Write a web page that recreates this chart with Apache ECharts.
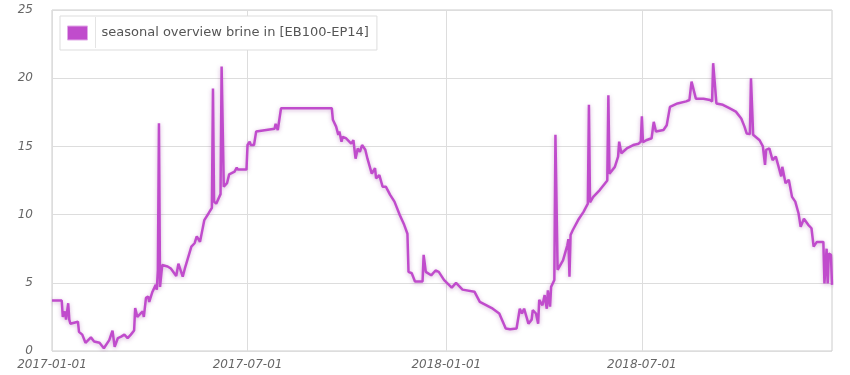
<!DOCTYPE html>
<html>
<head>
<meta charset="utf-8">
<script src="https://cdn.jsdelivr.net/npm/echarts@6/dist/echarts.min.js"></script>
<style>
html,body{margin:0;padding:0;background:#fff;}
#chart{width:850px;height:375px;}
</style>
</head>
<body>
<div id="chart"></div>
<script>
const seriesName = 'seasonal overview brine in [EB100-EP14]';
const xTickLabels = ['2017-01-01', '2017-07-01', '2018-01-01', '2018-07-01'];
const yTicks = [0, 5, 10, 15, 20, 25];
const xMin = '2017-01-01';
const xMax = '2018-12-24';

const dates = [
 '2017-01-01','2017-01-10','2017-01-11','2017-01-13','2017-01-14','2017-01-16','2017-01-17','2017-01-18',
 '2017-01-25','2017-01-26','2017-01-29','2017-02-01','2017-02-06','2017-02-09','2017-02-14','2017-02-18',
 '2017-02-23','2017-02-26','2017-02-28','2017-03-03','2017-03-06','2017-03-09','2017-03-12','2017-03-15',
 '2017-03-18','2017-03-19','2017-03-21','2017-03-24','2017-03-26','2017-03-27','2017-03-29','2017-03-31',
 '2017-04-01','2017-04-04','2017-04-07','2017-04-08','2017-04-09','2017-04-10','2017-04-11','2017-04-13',
 '2017-04-18','2017-04-21','2017-04-26','2017-04-28','2017-05-02','2017-05-04','2017-05-10','2017-05-13',
 '2017-05-15','2017-05-18','2017-05-22','2017-05-26','2017-05-29','2017-05-30','2017-05-31','2017-06-02',
 '2017-06-06','2017-06-07','2017-06-09','2017-06-12','2017-06-14','2017-06-19','2017-06-21','2017-06-22',
 '2017-06-30','2017-07-01','2017-07-03','2017-07-04','2017-07-07','2017-07-09','2017-07-26','2017-07-27',
 '2017-07-29','2017-08-01','2017-09-17','2017-09-18','2017-09-21','2017-09-23','2017-09-24','2017-09-26',
 '2017-09-27','2017-09-30','2017-10-05','2017-10-07','2017-10-09','2017-10-11','2017-10-13','2017-10-15',
 '2017-10-18','2017-10-20','2017-10-24','2017-10-27','2017-10-28','2017-10-31','2017-11-03','2017-11-06',
 '2017-11-10','2017-11-14','2017-11-19','2017-11-23','2017-11-26','2017-11-27','2017-11-30','2017-12-03',
 '2017-12-10','2017-12-11','2017-12-13','2017-12-18','2017-12-22','2017-12-25','2017-12-30','2018-01-06',
 '2018-01-10','2018-01-16','2018-01-27','2018-02-01','2018-02-13','2018-02-19','2018-02-25','2018-03-01',
 '2018-03-07','2018-03-10','2018-03-12','2018-03-14','2018-03-18','2018-03-21','2018-03-22','2018-03-25',
 '2018-03-27','2018-03-28','2018-03-31','2018-04-02','2018-04-04','2018-04-05','2018-04-07','2018-04-08',
 '2018-04-11','2018-04-12','2018-04-14','2018-04-19','2018-04-23','2018-04-24','2018-04-25','2018-04-26',
 '2018-04-28','2018-05-03','2018-05-08','2018-05-12','2018-05-13','2018-05-14','2018-05-17','2018-05-23',
 '2018-05-28','2018-05-30','2018-05-31','2018-06-01','2018-06-06','2018-06-09','2018-06-10','2018-06-12',
 '2018-06-17','2018-06-23','2018-06-28','2018-06-30','2018-07-01','2018-07-02','2018-07-05','2018-07-10',
 '2018-07-11','2018-07-12','2018-07-14','2018-07-21','2018-07-24','2018-07-27','2018-08-03','2018-08-11',
 '2018-08-14','2018-08-16','2018-08-17','2018-08-20','2018-08-27','2018-09-02','2018-09-04','2018-09-05',
 '2018-09-08','2018-09-14','2018-09-20','2018-09-26','2018-10-01','2018-10-04','2018-10-06','2018-10-09',
 '2018-10-10','2018-10-12','2018-10-18','2018-10-21','2018-10-23','2018-10-24','2018-10-27','2018-10-30',
 '2018-11-02','2018-11-07','2018-11-08','2018-11-11','2018-11-14','2018-11-17','2018-11-20','2018-11-23',
 '2018-11-25','2018-11-28','2018-12-02','2018-12-05','2018-12-07','2018-12-10','2018-12-16','2018-12-17',
 '2018-12-19','2018-12-20','2018-12-21','2018-12-23','2018-12-24'
];
const values = [
 3.7,3.7,2.5,2.9,2.3,3.5,2.3,2.0,
 2.15,1.4,1.2,0.6,1.0,0.7,0.6,0.2,
 0.8,1.5,0.3,0.95,1.05,1.2,0.95,1.2,
 1.5,3.15,2.5,2.75,2.9,2.5,3.9,4.0,
 3.6,4.35,4.85,4.5,5.9,16.7,4.7,6.3,
 6.2,6.05,5.5,6.4,5.45,6.05,7.65,7.9,
 8.4,8.0,9.6,10.1,10.5,19.25,10.95,10.8,
 11.5,20.85,12.05,12.3,12.95,13.15,13.45,13.3,
 13.3,15.1,15.35,15.1,15.1,16.1,16.3,16.65,
 16.2,17.8,17.8,16.95,16.45,15.85,16.1,15.35,
 15.7,15.6,15.2,15.45,14.1,14.85,14.6,15.1,
 14.75,14.1,13.0,13.4,12.65,12.9,12.05,12.05,
 11.45,10.95,9.95,9.25,8.6,5.8,5.7,5.1,
 5.1,7.05,5.8,5.55,5.9,5.8,5.2,4.65,
 5.0,4.5,4.35,3.6,3.1,2.75,1.65,1.6,
 1.65,3.1,2.75,3.1,2.0,2.3,3.0,2.75,
 2.0,3.75,3.35,4.1,3.1,4.45,3.25,4.7,
 5.2,15.85,5.95,6.65,7.75,8.2,5.45,8.5,
 8.85,9.6,10.2,10.8,18.05,10.9,11.3,11.8,
 12.3,12.5,18.75,13.0,13.5,14.25,15.35,14.5,
 14.85,15.1,15.2,15.35,17.2,15.3,15.45,15.6,
 15.6,16.8,16.1,16.2,16.55,17.9,18.15,18.3,
 18.4,19.75,19.8,18.5,18.5,18.4,18.3,21.1,
 18.15,18.05,17.8,17.55,17.05,16.45,15.95,15.9,
 20.0,15.85,15.45,15.0,13.65,14.75,14.85,14.0,
 14.25,12.8,13.5,12.3,12.55,11.3,10.95,10.1,
 9.1,9.7,9.25,9.0,7.65,8.0,8.0,4.95,
 7.5,4.95,7.15,7.05,4.85
];

function toTime(s) {
  const p = s.split('-').map(Number);
  return new Date(p[0], p[1] - 1, p[2]).getTime();
}
function fmtDate(v) {
  const d = new Date(v);
  const pad = n => (n < 10 ? '0' : '') + n;
  return d.getFullYear() + '-' + pad(d.getMonth() + 1) + '-' + pad(d.getDate());
}
const xTickValues = xTickLabels.map(toTime);
const seriesData = dates.map((d, i) => [toTime(d), values[i]]);

const chart = echarts.init(document.getElementById('chart'), null, {renderer: 'canvas'});
const axisFont = {fontFamily: 'DejaVu Sans', fontStyle: 'italic', fontSize: 12, color: '#666'};

chart.setOption({
  animation: false,
  backgroundColor: '#ffffff',
  grid: {left: 52, right: 18, top: 10, bottom: 24, show: true, borderColor: '#cccccc', borderWidth: 1},
  legend: {
    left: 60, top: 16,
    icon: 'rect', itemWidth: 20, itemHeight: 14,
    padding: [9.5, 8, 9.5, 7],
    borderColor: '#dddddd', borderWidth: 1, backgroundColor: '#ffffff',
    itemStyle: {color: '#c04ccc', borderColor: '#e2a9e8', borderWidth: 1},
    textStyle: {fontFamily: 'DejaVu Sans', fontSize: 13, color: '#555', padding: [0, 0, 0, 9]},
    data: [seriesName]
  },
  graphic: [{
    type: 'line', shape: {x1: 95.5, y1: 17, x2: 95.5, y2: 48},
    style: {stroke: '#e4e4e4', lineWidth: 1}, z: 100
  }],
  xAxis: {
    type: 'value',
    min: toTime(xMin), max: toTime(xMax),
    axisLine: {show: false},
    axisTick: {show: false, customValues: xTickValues},
    splitLine: {show: true, lineStyle: {color: '#dddddd', width: 1}},
    axisLabel: Object.assign({
      customValues: xTickValues,
      margin: 8,
      formatter: function (v) {
        const i = xTickValues.indexOf(v);
        return i >= 0 ? xTickLabels[i] : fmtDate(v);
      }
    }, axisFont)
  },
  yAxis: {
    type: 'value',
    min: yTicks[0], max: yTicks[yTicks.length - 1], interval: 5,
    axisLine: {show: false},
    axisTick: {show: false},
    splitLine: {show: true, lineStyle: {color: '#dddddd', width: 1}},
    axisLabel: Object.assign({margin: 19}, axisFont)
  },
  series: [{
    name: seriesName,
    type: 'line',
    data: seriesData,
    showSymbol: false,
    symbol: 'none',
    color: '#c04ccc',
    lineStyle: {color: '#c04ccc', width: 2.5, shadowBlur: 4, shadowColor: 'rgba(140,40,150,0.35)', shadowOffsetY: 1}
  }]
});
</script>
</body>
</html>
